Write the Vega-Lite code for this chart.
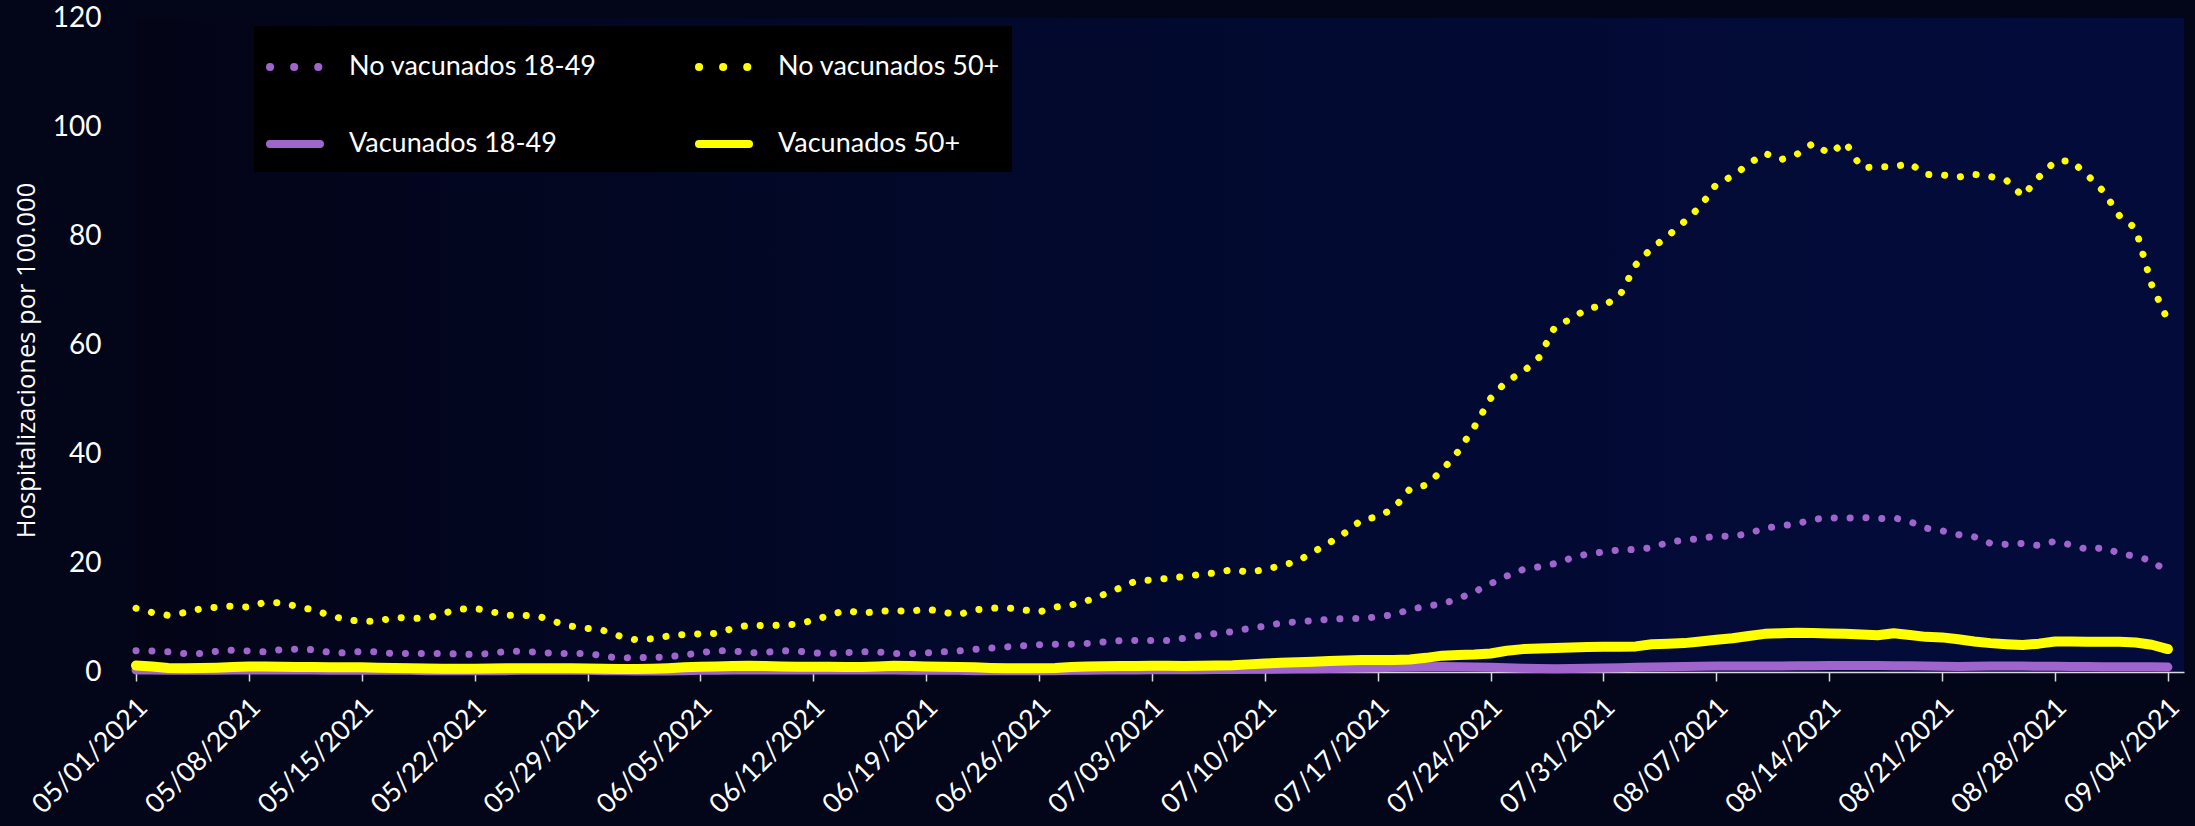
{
  "$schema": "https://vega.github.io/schema/vega-lite/v6.json",
  "autosize": "none",
  "padding": {"left": 136, "top": 18, "right": 11, "bottom": 154},
  "width": 2048,
  "height": 654,
  "background": "#020618",
  "view": {
    "stroke": null,
    "fill": {
      "gradient": "linear", "x1": 0, "y1": 0, "x2": 1, "y2": 0,
      "stops": [
        {"offset": 0, "color": "#030416"},
        {"offset": 0.35, "color": "#020828"},
        {"offset": 0.6, "color": "#020a32"},
        {"offset": 1, "color": "#030b3b"}
      ]
    }
  },
  "config": {
    "font": "Lato",
    "axisY": {
      "grid": false, "domain": false, "ticks": false, "tickSize": 0,
      "labelPadding": 35, "labelFont": "Lato", "labelFontSize": 28, "labelColor": "#ffffff",
      "titleFont": "Open Sans", "titleFontSize": 25.5, "titleFontWeight": "normal", "titleColor": "#ffffff",
      "titlePadding": 13, "titleY": 342
    },
    "axisX": {
      "grid": false, "labelAngle": -45, "labelAlign": "right", "labelBaseline": "middle",
      "labelPadding": 22, "labelOffset": 7, "labelFont": "Lato", "labelFontSize": 27, "labelColor": "#ffffff",
      "labelOverlap": false, "labelFlush": false,
      "tickColor": "#d9d9d9", "tickWidth": 1.5, "tickSize": 9,
      "domainColor": "#d9d9d9", "domainWidth": 1.5
    },
    "legend": {
      "orient": "none", "legendX": 118, "legendY": 8, "columns": 2,
      "symbolType": "stroke", "symbolSize": 2500, "symbolStrokeWidth": 8,
      "labelFont": "Lato", "labelFontSize": 27, "labelColor": "#ffffff", "labelOffset": 25, "labelLimit": 500,
      "columnPadding": 86, "rowPadding": 32, "padding": 12, "fillColor": "#000000"
    }
  },
  "data": {
    "values": [
      {"fecha": "2021-05-01", "n18": 3.9, "n50": 11.7, "v18": 0.35, "v50": 1.2},
      {"fecha": "2021-05-02", "n18": 3.85, "n50": 10.9, "v18": 0.35, "v50": 1.0},
      {"fecha": "2021-05-03", "n18": 3.7, "n50": 10.4, "v18": 0.3, "v50": 0.75},
      {"fecha": "2021-05-04", "n18": 3.4, "n50": 10.9, "v18": 0.3, "v50": 0.7},
      {"fecha": "2021-05-05", "n18": 3.4, "n50": 11.6, "v18": 0.3, "v50": 0.75},
      {"fecha": "2021-05-06", "n18": 3.8, "n50": 11.9, "v18": 0.3, "v50": 0.8},
      {"fecha": "2021-05-07", "n18": 4.0, "n50": 12.1, "v18": 0.35, "v50": 0.9},
      {"fecha": "2021-05-08", "n18": 3.85, "n50": 11.9, "v18": 0.35, "v50": 1.0},
      {"fecha": "2021-05-09", "n18": 3.7, "n50": 12.8, "v18": 0.35, "v50": 1.0},
      {"fecha": "2021-05-10", "n18": 4.1, "n50": 12.7, "v18": 0.35, "v50": 0.95},
      {"fecha": "2021-05-11", "n18": 4.2, "n50": 12.0, "v18": 0.35, "v50": 0.9},
      {"fecha": "2021-05-12", "n18": 4.1, "n50": 11.4, "v18": 0.35, "v50": 0.9},
      {"fecha": "2021-05-13", "n18": 3.6, "n50": 10.4, "v18": 0.3, "v50": 0.85},
      {"fecha": "2021-05-14", "n18": 3.5, "n50": 9.6, "v18": 0.3, "v50": 0.85},
      {"fecha": "2021-05-15", "n18": 3.8, "n50": 9.3, "v18": 0.3, "v50": 0.85},
      {"fecha": "2021-05-16", "n18": 3.7, "n50": 9.3, "v18": 0.3, "v50": 0.8},
      {"fecha": "2021-05-17", "n18": 3.35, "n50": 10.0, "v18": 0.3, "v50": 0.75},
      {"fecha": "2021-05-18", "n18": 3.4, "n50": 9.9, "v18": 0.3, "v50": 0.7},
      {"fecha": "2021-05-19", "n18": 3.4, "n50": 9.8, "v18": 0.25, "v50": 0.65},
      {"fecha": "2021-05-20", "n18": 3.4, "n50": 10.7, "v18": 0.25, "v50": 0.6},
      {"fecha": "2021-05-21", "n18": 3.3, "n50": 11.5, "v18": 0.25, "v50": 0.6},
      {"fecha": "2021-05-22", "n18": 3.2, "n50": 11.7, "v18": 0.25, "v50": 0.6},
      {"fecha": "2021-05-23", "n18": 3.4, "n50": 11.1, "v18": 0.25, "v50": 0.65},
      {"fecha": "2021-05-24", "n18": 3.8, "n50": 10.4, "v18": 0.25, "v50": 0.7},
      {"fecha": "2021-05-25", "n18": 3.8, "n50": 10.4, "v18": 0.3, "v50": 0.7},
      {"fecha": "2021-05-26", "n18": 3.6, "n50": 10.2, "v18": 0.3, "v50": 0.7},
      {"fecha": "2021-05-27", "n18": 3.4, "n50": 9.2, "v18": 0.3, "v50": 0.7},
      {"fecha": "2021-05-28", "n18": 3.4, "n50": 8.4, "v18": 0.3, "v50": 0.7},
      {"fecha": "2021-05-29", "n18": 3.4, "n50": 8.0, "v18": 0.3, "v50": 0.65},
      {"fecha": "2021-05-30", "n18": 2.95, "n50": 7.6, "v18": 0.25, "v50": 0.6},
      {"fecha": "2021-05-31", "n18": 2.5, "n50": 6.6, "v18": 0.25, "v50": 0.55},
      {"fecha": "2021-06-01", "n18": 2.7, "n50": 5.9, "v18": 0.2, "v50": 0.55},
      {"fecha": "2021-06-02", "n18": 2.6, "n50": 6.1, "v18": 0.2, "v50": 0.6},
      {"fecha": "2021-06-03", "n18": 2.8, "n50": 6.6, "v18": 0.2, "v50": 0.7},
      {"fecha": "2021-06-04", "n18": 3.1, "n50": 6.9, "v18": 0.25, "v50": 0.85},
      {"fecha": "2021-06-05", "n18": 3.55, "n50": 7.0, "v18": 0.3, "v50": 0.95},
      {"fecha": "2021-06-06", "n18": 3.9, "n50": 7.1, "v18": 0.3, "v50": 1.0},
      {"fecha": "2021-06-07", "n18": 3.9, "n50": 8.0, "v18": 0.35, "v50": 1.1},
      {"fecha": "2021-06-08", "n18": 3.5, "n50": 8.6, "v18": 0.35, "v50": 1.15},
      {"fecha": "2021-06-09", "n18": 3.6, "n50": 8.5, "v18": 0.35, "v50": 1.1},
      {"fecha": "2021-06-10", "n18": 3.9, "n50": 8.6, "v18": 0.35, "v50": 1.0},
      {"fecha": "2021-06-11", "n18": 3.85, "n50": 8.8, "v18": 0.35, "v50": 0.95},
      {"fecha": "2021-06-12", "n18": 3.5, "n50": 9.5, "v18": 0.35, "v50": 0.95},
      {"fecha": "2021-06-13", "n18": 3.4, "n50": 10.4, "v18": 0.35, "v50": 0.95},
      {"fecha": "2021-06-14", "n18": 3.55, "n50": 11.3, "v18": 0.35, "v50": 0.9},
      {"fecha": "2021-06-15", "n18": 3.7, "n50": 10.8, "v18": 0.35, "v50": 0.9},
      {"fecha": "2021-06-16", "n18": 3.7, "n50": 11.1, "v18": 0.35, "v50": 1.0},
      {"fecha": "2021-06-17", "n18": 3.4, "n50": 11.3, "v18": 0.35, "v50": 1.15},
      {"fecha": "2021-06-18", "n18": 3.4, "n50": 11.1, "v18": 0.3, "v50": 1.1},
      {"fecha": "2021-06-19", "n18": 3.5, "n50": 11.6, "v18": 0.3, "v50": 1.0},
      {"fecha": "2021-06-20", "n18": 3.7, "n50": 11.0, "v18": 0.3, "v50": 0.95},
      {"fecha": "2021-06-21", "n18": 3.85, "n50": 10.5, "v18": 0.3, "v50": 0.9},
      {"fecha": "2021-06-22", "n18": 4.15, "n50": 11.4, "v18": 0.25, "v50": 0.85},
      {"fecha": "2021-06-23", "n18": 4.4, "n50": 11.7, "v18": 0.25, "v50": 0.75},
      {"fecha": "2021-06-24", "n18": 4.6, "n50": 11.8, "v18": 0.25, "v50": 0.7},
      {"fecha": "2021-06-25", "n18": 4.8, "n50": 11.4, "v18": 0.25, "v50": 0.7},
      {"fecha": "2021-06-26", "n18": 5.0, "n50": 11.0, "v18": 0.25, "v50": 0.7},
      {"fecha": "2021-06-27", "n18": 5.1, "n50": 11.9, "v18": 0.25, "v50": 0.75},
      {"fecha": "2021-06-28", "n18": 5.1, "n50": 12.3, "v18": 0.3, "v50": 0.9},
      {"fecha": "2021-06-29", "n18": 5.25, "n50": 13.1, "v18": 0.3, "v50": 1.0},
      {"fecha": "2021-06-30", "n18": 5.5, "n50": 14.2, "v18": 0.35, "v50": 1.05},
      {"fecha": "2021-07-01", "n18": 5.75, "n50": 15.4, "v18": 0.35, "v50": 1.1},
      {"fecha": "2021-07-02", "n18": 5.8, "n50": 16.7, "v18": 0.35, "v50": 1.1},
      {"fecha": "2021-07-03", "n18": 5.8, "n50": 16.9, "v18": 0.4, "v50": 1.15},
      {"fecha": "2021-07-04", "n18": 5.8, "n50": 17.2, "v18": 0.4, "v50": 1.15},
      {"fecha": "2021-07-05", "n18": 6.2, "n50": 17.5, "v18": 0.4, "v50": 1.1},
      {"fecha": "2021-07-06", "n18": 6.7, "n50": 17.9, "v18": 0.4, "v50": 1.15},
      {"fecha": "2021-07-07", "n18": 7.1, "n50": 18.2, "v18": 0.45, "v50": 1.2},
      {"fecha": "2021-07-08", "n18": 7.4, "n50": 18.8, "v18": 0.45, "v50": 1.25},
      {"fecha": "2021-07-09", "n18": 8.0, "n50": 18.3, "v18": 0.5, "v50": 1.4},
      {"fecha": "2021-07-10", "n18": 8.4, "n50": 18.8, "v18": 0.5, "v50": 1.55},
      {"fecha": "2021-07-11", "n18": 9.0, "n50": 19.5, "v18": 0.55, "v50": 1.7},
      {"fecha": "2021-07-12", "n18": 9.2, "n50": 20.3, "v18": 0.6, "v50": 1.8},
      {"fecha": "2021-07-13", "n18": 9.4, "n50": 22.0, "v18": 0.6, "v50": 1.9},
      {"fecha": "2021-07-14", "n18": 9.7, "n50": 23.7, "v18": 0.65, "v50": 2.0},
      {"fecha": "2021-07-15", "n18": 9.8, "n50": 25.6, "v18": 0.7, "v50": 2.1},
      {"fecha": "2021-07-16", "n18": 9.8, "n50": 27.9, "v18": 0.75, "v50": 2.2},
      {"fecha": "2021-07-17", "n18": 10.15, "n50": 28.5, "v18": 0.8, "v50": 2.2},
      {"fecha": "2021-07-18", "n18": 10.5, "n50": 30.0, "v18": 0.85, "v50": 2.2},
      {"fecha": "2021-07-19", "n18": 11.5, "n50": 33.6, "v18": 0.9, "v50": 2.3},
      {"fecha": "2021-07-20", "n18": 12.05, "n50": 34.3, "v18": 0.95, "v50": 2.6},
      {"fecha": "2021-07-21", "n18": 12.5, "n50": 37.0, "v18": 1.0, "v50": 3.0},
      {"fecha": "2021-07-22", "n18": 13.45, "n50": 40.5, "v18": 0.95, "v50": 3.1},
      {"fecha": "2021-07-23", "n18": 14.7, "n50": 45.0, "v18": 0.9, "v50": 3.2},
      {"fecha": "2021-07-24", "n18": 16.2, "n50": 50.2, "v18": 0.85, "v50": 3.4},
      {"fecha": "2021-07-25", "n18": 17.6, "n50": 53.4, "v18": 0.8, "v50": 3.9},
      {"fecha": "2021-07-26", "n18": 18.8, "n50": 55.0, "v18": 0.7, "v50": 4.2},
      {"fecha": "2021-07-27", "n18": 19.3, "n50": 57.7, "v18": 0.65, "v50": 4.3},
      {"fecha": "2021-07-28", "n18": 19.9, "n50": 63.4, "v18": 0.6, "v50": 4.4},
      {"fecha": "2021-07-29", "n18": 20.9, "n50": 64.8, "v18": 0.65, "v50": 4.5},
      {"fecha": "2021-07-30", "n18": 21.65, "n50": 66.7, "v18": 0.7, "v50": 4.6},
      {"fecha": "2021-07-31", "n18": 22.0, "n50": 67.2, "v18": 0.75, "v50": 4.65},
      {"fecha": "2021-08-01", "n18": 22.4, "n50": 69.0, "v18": 0.8, "v50": 4.65},
      {"fecha": "2021-08-02", "n18": 22.5, "n50": 74.7, "v18": 0.85, "v50": 4.7},
      {"fecha": "2021-08-03", "n18": 22.8, "n50": 77.8, "v18": 0.9, "v50": 5.1},
      {"fecha": "2021-08-04", "n18": 23.8, "n50": 80.0, "v18": 0.95, "v50": 5.2},
      {"fecha": "2021-08-05", "n18": 24.2, "n50": 82.6, "v18": 1.0, "v50": 5.3},
      {"fecha": "2021-08-06", "n18": 24.5, "n50": 85.4, "v18": 1.05, "v50": 5.6},
      {"fecha": "2021-08-07", "n18": 24.95, "n50": 89.5, "v18": 1.1, "v50": 5.9},
      {"fecha": "2021-08-08", "n18": 24.9, "n50": 91.0, "v18": 1.1, "v50": 6.2},
      {"fecha": "2021-08-09", "n18": 25.4, "n50": 93.2, "v18": 1.1, "v50": 6.6},
      {"fecha": "2021-08-10", "n18": 26.4, "n50": 95.2, "v18": 1.1, "v50": 7.0},
      {"fecha": "2021-08-11", "n18": 26.8, "n50": 94.0, "v18": 1.1, "v50": 7.1},
      {"fecha": "2021-08-12", "n18": 27.2, "n50": 95.0, "v18": 1.15, "v50": 7.2},
      {"fecha": "2021-08-13", "n18": 28.0, "n50": 97.0, "v18": 1.15, "v50": 7.15},
      {"fecha": "2021-08-14", "n18": 28.3, "n50": 95.1, "v18": 1.2, "v50": 7.05},
      {"fecha": "2021-08-15", "n18": 28.2, "n50": 97.2, "v18": 1.2, "v50": 7.0},
      {"fecha": "2021-08-16", "n18": 28.4, "n50": 92.5, "v18": 1.2, "v50": 6.9},
      {"fecha": "2021-08-17", "n18": 28.1, "n50": 92.7, "v18": 1.2, "v50": 6.75},
      {"fecha": "2021-08-18", "n18": 28.3, "n50": 92.7, "v18": 1.15, "v50": 7.1},
      {"fecha": "2021-08-19", "n18": 27.6, "n50": 93.3, "v18": 1.15, "v50": 6.8},
      {"fecha": "2021-08-20", "n18": 26.4, "n50": 91.3, "v18": 1.1, "v50": 6.45},
      {"fecha": "2021-08-21", "n18": 25.9, "n50": 91.2, "v18": 1.05, "v50": 6.35},
      {"fecha": "2021-08-22", "n18": 25.2, "n50": 90.8, "v18": 1.0, "v50": 6.0},
      {"fecha": "2021-08-23", "n18": 24.8, "n50": 91.3, "v18": 1.05, "v50": 5.6},
      {"fecha": "2021-08-24", "n18": 23.6, "n50": 90.9, "v18": 1.1, "v50": 5.3},
      {"fecha": "2021-08-25", "n18": 23.4, "n50": 90.2, "v18": 1.1, "v50": 5.1},
      {"fecha": "2021-08-26", "n18": 23.6, "n50": 87.3, "v18": 1.1, "v50": 4.95},
      {"fecha": "2021-08-27", "n18": 23.2, "n50": 90.8, "v18": 1.05, "v50": 5.2},
      {"fecha": "2021-08-28", "n18": 24.0, "n50": 93.7, "v18": 1.05, "v50": 5.6},
      {"fecha": "2021-08-29", "n18": 23.3, "n50": 93.8, "v18": 1.0, "v50": 5.6},
      {"fecha": "2021-08-30", "n18": 22.5, "n50": 91.2, "v18": 1.0, "v50": 5.55},
      {"fecha": "2021-08-31", "n18": 22.8, "n50": 88.2, "v18": 0.95, "v50": 5.55},
      {"fecha": "2021-09-01", "n18": 21.8, "n50": 83.7, "v18": 0.95, "v50": 5.55},
      {"fecha": "2021-09-02", "n18": 21.2, "n50": 81.4, "v18": 0.95, "v50": 5.4},
      {"fecha": "2021-09-03", "n18": 20.4, "n50": 71.0, "v18": 0.95, "v50": 5.0},
      {"fecha": "2021-09-04", "n18": 18.3, "n50": 64.5, "v18": 0.9, "v50": 4.2}
    ]
  },
  "encoding": {
    "x": {
      "field": "fecha", "type": "temporal",
      "scale": {"type": "utc", "domain": [{"year": 2021, "month": 5, "date": 1, "utc": true}, {"year": 2021, "month": 9, "date": 5, "utc": true}]},
      "axis": {
        "title": null,
        "labelExpr": "utcFormat(datum.value, '%m/%d/%Y')",
        "values": [
          {"year": 2021, "month": 5, "date": 1, "utc": true},
          {"year": 2021, "month": 5, "date": 8, "utc": true},
          {"year": 2021, "month": 5, "date": 15, "utc": true},
          {"year": 2021, "month": 5, "date": 22, "utc": true},
          {"year": 2021, "month": 5, "date": 29, "utc": true},
          {"year": 2021, "month": 6, "date": 5, "utc": true},
          {"year": 2021, "month": 6, "date": 12, "utc": true},
          {"year": 2021, "month": 6, "date": 19, "utc": true},
          {"year": 2021, "month": 6, "date": 26, "utc": true},
          {"year": 2021, "month": 7, "date": 3, "utc": true},
          {"year": 2021, "month": 7, "date": 10, "utc": true},
          {"year": 2021, "month": 7, "date": 17, "utc": true},
          {"year": 2021, "month": 7, "date": 24, "utc": true},
          {"year": 2021, "month": 7, "date": 31, "utc": true},
          {"year": 2021, "month": 8, "date": 7, "utc": true},
          {"year": 2021, "month": 8, "date": 14, "utc": true},
          {"year": 2021, "month": 8, "date": 21, "utc": true},
          {"year": 2021, "month": 8, "date": 28, "utc": true},
          {"year": 2021, "month": 9, "date": 4, "utc": true}
        ]
      }
    }
  },
  "layer": [
    {
      "mark": {"type": "line", "strokeWidth": 9, "strokeCap": "round", "strokeJoin": "round"},
      "encoding": {
        "y": {"field": "v18", "type": "quantitative", "title": "Hospitalizaciones por 100.000",
              "scale": {"domain": [0, 120], "nice": false},
              "axis": {"values": [0, 20, 40, 60, 80, 100, 120]}},
        "color": {
          "datum": "Vacunados 18-49", "type": "nominal",
          "scale": {"domain": ["No vacunados 18-49", "Vacunados 18-49", "No vacunados 50+", "Vacunados 50+"],
                    "range": ["#a064cd", "#a064cd", "#ffff00", "#ffff00"]},
          "legend": {
            "title": null,
            "encode": {
              "symbols": {
                "update": {
                  "strokeDash": {"signal": "indexof(datum.value, 'No') === 0 ? [0.1, 24] : [1, 0]"},
                  "strokeWidth": {"value": 8},
                  "strokeCap": {"value": "round"},
                  "fill": {"value": "transparent"}
                }
              }
            }
          }
        }
      }
    },
    {
      "mark": {"type": "line", "strokeWidth": 10, "strokeCap": "round", "strokeJoin": "round"},
      "encoding": {
        "y": {"field": "v50", "type": "quantitative", "title": "Hospitalizaciones por 100.000",
              "axis": {"values": [0, 20, 40, 60, 80, 100, 120]}},
        "color": {"datum": "Vacunados 50+", "type": "nominal"}
      }
    },
    {
      "mark": {"type": "line", "strokeWidth": 7, "strokeCap": "round", "strokeDash": [0.1, 15.8]},
      "encoding": {
        "y": {"field": "n18", "type": "quantitative", "title": "Hospitalizaciones por 100.000",
              "axis": {"values": [0, 20, 40, 60, 80, 100, 120]}},
        "color": {"datum": "No vacunados 18-49", "type": "nominal"}
      }
    },
    {
      "mark": {"type": "line", "strokeWidth": 7, "strokeCap": "round", "strokeDash": [0.1, 15.8]},
      "encoding": {
        "y": {"field": "n50", "type": "quantitative", "title": "Hospitalizaciones por 100.000",
              "axis": {"values": [0, 20, 40, 60, 80, 100, 120]}},
        "color": {"datum": "No vacunados 50+", "type": "nominal"}
      }
    }
  ]
}
